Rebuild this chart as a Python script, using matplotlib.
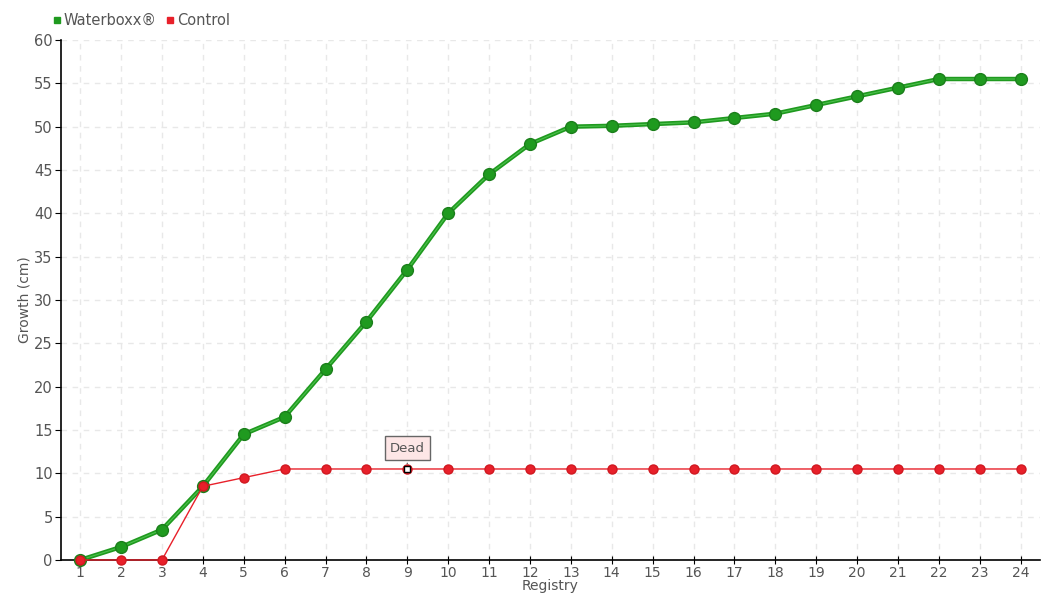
import matplotlib
matplotlib.use('Agg')
import matplotlib.pyplot as plt
from matplotlib.lines import Line2D

# Data
registry = list(range(1, 25))
waterboxx = [0, 1.5, 3.5, 8.5, 14.5, 16.5, 22, 27.5, 33.5, 40, 44.5, 48,
             50, 50.1, 50.3, 50.5, 51, 51.5, 52.5, 53.5, 54.5, 55.5, 55.5, 55.5]
control = [0, 0, 0, 8.5, 9.5, 10.5, 10.5, 10.5, 10.5, 10.5, 10.5, 10.5,
           10.5, 10.5, 10.5, 10.5, 10.5, 10.5, 10.5, 10.5, 10.5, 10.5, 10.5, 10.5]
dead_registry = 9
y_ticks = list(range(0, 65, 5))

plt.rcParams['font.family'] = ['DejaVu Sans']

green = '#1f9a1f'
green_dark = '#1b7f1b'
green_light = '#4cc04c'
red = '#e8202a'
text_col = '#555555'

fig = plt.figure(figsize=(10.6, 6), dpi=100)
ax = fig.add_axes([0.0575, 0.0667, 0.9235, 0.8666])

# Waterboxx: thick line with lighter centre stripe
ax.plot(registry, waterboxx, color=green, linewidth=3.2, zorder=3)
ax.plot(registry, waterboxx, color=green_light, linewidth=0.8, zorder=3.5)
ax.plot(registry, waterboxx, linestyle='none', marker='o', markersize=8.5,
        markerfacecolor=green, markeredgecolor=green_dark, markeredgewidth=1,
        zorder=4, clip_on=False, label='Waterboxx®')

# Control
ax.plot(registry, control, color=red, linewidth=1, zorder=5, clip_on=False)
ax.plot(registry, control, linestyle='none', marker='o', markersize=6.5,
        markerfacecolor=red, markeredgecolor='#d01820', zorder=6,
        clip_on=False, label='Control')
ax.plot([dead_registry], [control[dead_registry - 1]], marker='s', markersize=4,
        markerfacecolor='white', markeredgecolor='black', markeredgewidth=1, zorder=7)

ax.annotate('Dead', xy=(dead_registry, control[dead_registry - 1] + 0.3),
            xytext=(dead_registry, 12.9), ha='center', va='center',
            fontsize=9.5, color=text_col,
            bbox=dict(boxstyle='square,pad=0.4', fc='#fde6e6', ec='#666666', lw=1),
            arrowprops=dict(arrowstyle='-', color='#666666', lw=1), zorder=8)

# Axes styling
ax.set_xlim(0.53, 24.47)
ax.set_ylim(0, 60)
ax.set_xticks(registry)
ax.set_yticks(y_ticks)
ax.tick_params(axis='x', direction='inout', length=6, colors='black',
               labelcolor=text_col, labelsize=10, pad=1)
ax.tick_params(axis='y', direction='out', length=4, colors='black',
               labelcolor=text_col, labelsize=10.5, pad=2)
ax.grid(True, linestyle=(0, (4, 4)), color='#e8e8e8', linewidth=1)
ax.set_axisbelow(True)
for s in ['top', 'right']:
    ax.spines[s].set_visible(False)
ax.spines['left'].set_linewidth(1.2)
ax.spines['bottom'].set_linewidth(1.2)

ax.set_xlabel('Registry', color=text_col, fontsize=10, labelpad=0)
ax.xaxis.set_label_coords(0.5, -0.037)
ax.set_ylabel('Growth (cm)', color=text_col, fontsize=10)
ax.yaxis.set_label_coords(-0.03, 0.5)

# Legend
handles = [Line2D([], [], linestyle='none', marker='s', markersize=5, color=green),
           Line2D([], [], linestyle='none', marker='s', markersize=5, color=red)]
fig.legend(handles, ['Waterboxx®', 'Control'], loc='upper left',
           bbox_to_anchor=(0.037, 1.0), ncol=2, frameon=False, fontsize=10.5,
           handlelength=0.6, handletextpad=0.2, columnspacing=0.6,
           labelcolor=text_col)

fig.savefig('out.png', dpi=100)
plt.close(fig)
